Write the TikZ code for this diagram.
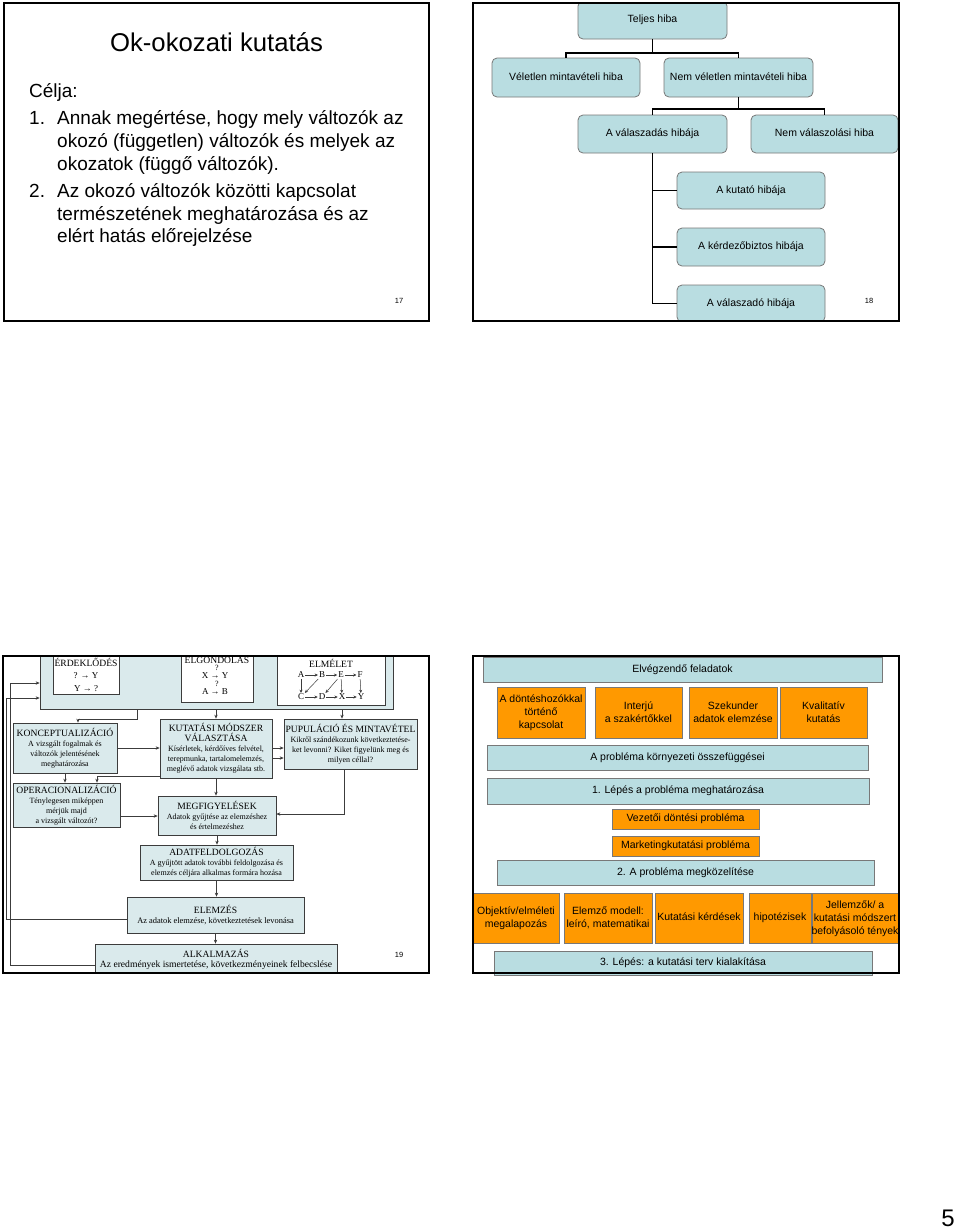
\documentclass[tikz,border=0pt]{standalone}
\usepackage{fontspec}
\setmainfont{Liberation Sans}
\newfontfamily\serifff{Liberation Serif}
\usetikzlibrary{arrows.meta}
\definecolor{hibablue}{RGB}{185,221,225}
\definecolor{paleblue}{RGB}{218,234,236}
\definecolor{orangebox}{RGB}{255,153,0}
\definecolor{boxgray}{RGB}{120,120,120}
\definecolor{darkline}{RGB}{60,60,60}
\newcommand{\hdf}{\fontsize{9.6}{10}\selectfont}
\begin{document}
\begin{tikzpicture}[x=1pt,y=-1pt,
  frame/.style={draw=black,line width=2pt},
  sl/.style={text height=7.6pt,text depth=2.4pt},
  hb/.style={draw=boxgray,fill=hibablue,rounded corners=5pt,line width=0.8pt,font=\fontsize{10.5}{12}\selectfont,inner sep=0pt,sl},
  conn/.style={draw=black,line width=1.3pt},
  pb/.style={draw=darkline,fill=paleblue,line width=0.7pt,inner sep=0pt,align=center,font=\serifff\fontsize{8}{10}\selectfont},
  wb/.style={draw=darkline,fill=white,line width=0.7pt,inner sep=0pt,align=center,font=\serifff\fontsize{9}{12.5}\selectfont},
  stxt/.style={inner sep=0pt,font=\serifff\fontsize{9}{10}\selectfont},
  lett/.style={inner sep=0.9pt,font=\serifff\fontsize{9}{10}\selectfont},
  arr/.style={draw=darkline,line width=0.6pt,-{Stealth[length=4pt,width=3.4pt]}},
  garr/.style={draw=darkline,line width=0.5pt,-{Stealth[length=3.2pt,width=3pt]}},
  bar/.style={draw=boxgray,fill=hibablue,line width=0.8pt,inner sep=0pt,font=\fontsize{10.5}{12}\selectfont,sl},
  ob/.style={draw=boxgray,fill=orangebox,line width=0.8pt,inner sep=0pt,align=center,font=\fontsize{10.5}{13}\selectfont},
  otxt/.style={inner sep=0pt,align=center,font=\fontsize{10.5}{13}\selectfont},
  pnum/.style={font=\fontsize{7.5}{9}\selectfont,inner sep=0pt},
  body1/.style={inner sep=0pt,anchor=base west,font=\fontsize{19}{23}\selectfont},
]
\useasboundingbox[fill=white] (0,0) rectangle (960,1229);

% ---------------- Slide 17 ----------------
\node[inner sep=0pt,anchor=base,font=\fontsize{25.7}{30}\selectfont] (title) at (216.5,51.5) {Ok-okozati kutatás};
\node[body1] (celja) at (29,97) {Célja:};
\node[body1] (n1) at (29,124) {1.};
\node[body1] (l1) at (57,124) {Annak megértése, hogy mely változók az};
\node[body1] (l2) at (57,147) {okozó (független) változók és melyek az};
\node[body1] (l3) at (57,170) {okozatok (függő változók).};
\node[body1] (n2) at (29,197.5) {2.};
\node[body1] (l4) at (57,197.5) {Az okozó változók közötti kapcsolat};
\node[body1] (l5) at (57,220) {természetének meghatározása és az};
\node[body1] (l6) at (57,242.5) {elért hatás előrejelzése};
\node[pnum] (p17) at (399,301) {17};
\draw[frame] (4,3) rectangle (429,321);

% ---------------- Slide 18 ----------------
\begin{scope}
\clip (473,3) rectangle (899,321);
\node[hb,minimum width=149pt,minimum height=38pt] (teljes) at (652.5,20) {Teljes hiba};
\node[hb,minimum width=148pt,minimum height=39pt] (vel) at (566,77.5) {Véletlen mintavételi hiba};
\node[hb,minimum width=149pt,minimum height=39pt] (nemvel) at (738.5,77.5) {Nem véletlen mintavételi hiba};
\node[hb,minimum width=149pt,minimum height=38pt] (valaszadas) at (652.5,134) {A válaszadás hibája};
\node[hb,minimum width=147pt,minimum height=38pt] (nemval) at (824.5,134) {Nem válaszolási hiba};
\node[hb,minimum width=148pt,minimum height=37pt] (kutato) at (751,190.5) {A kutató hibája};
\node[hb,minimum width=148pt,minimum height=38pt] (kerdezo) at (751,247) {A kérdezőbiztos hibája};
\node[hb,minimum width=148pt,minimum height=37pt] (valaszado) at (751,303.5) {A válaszadó hibája};
\coordinate (j1) at (0,53);
\coordinate (j2) at (0,109);
\draw[conn] (teljes.south) -- (teljes.south |- j1) -| (vel.north);
\draw[conn] (teljes.south |- j1) -| (nemvel.north);
\draw[conn] (nemvel.south) -- (nemvel.south |- j2) -| (valaszadas.north);
\draw[conn] (nemvel.south |- j2) -| (nemval.north);
\draw[conn] (valaszadas.south) |- (valaszado.west);
\draw[conn] (valaszadas.south |- kutato.west) -- (kutato.west);
\draw[conn] (valaszadas.south |- kerdezo.west) -- (kerdezo.west);
\end{scope}
\node[pnum] (p18) at (869,301) {18};
\draw[frame] (473,3) rectangle (899,321);

% ---------------- Slide 19 ----------------
\begin{scope}
\clip (3,656) rectangle (429,973);
\node[pb,minimum width=353pt,minimum height=55pt] (banner) at (216.5,681.5) {};
\node[wb,minimum width=66pt,minimum height=40pt] (erd) at (86,674.5) {{\hdf ÉRDEKLŐDÉS}\\? → Y\\Y → ?};
\node[wb,minimum width=72pt,minimum height=48pt] (elg) at (217,678) {};
\node[stxt,font=\serifff\hdf] (elgt1) at (217,659.5) {ELGONDOLÁS};
\node[stxt,font=\serifff\fontsize{8}{9}\selectfont] (elgq1) at (217,667.5) {?};
\node[stxt] (elgt2) at (215,676) {X → Y};
\node[stxt,font=\serifff\fontsize{8}{9}\selectfont] (elgq2) at (217,684) {?};
\node[stxt] (elgt3) at (215,692) {A → B};
\node[wb,minimum width=108pt,minimum height=51pt] (elm) at (331,679.5) {};
\node[stxt,font=\serifff\hdf] (elmt) at (331,663) {ELMÉLET};
\node[lett] (eA) at (301,675) {A};
\node[lett] (eB) at (322,675) {B};
\node[lett] (eE) at (341,675) {E};
\node[lett] (eF) at (360,675) {F};
\node[lett] (eC) at (301,697) {C};
\node[lett] (eD) at (322,697) {D};
\node[lett] (eX) at (342,697) {X};
\node[lett] (eY) at (361,697) {Y};
\draw[garr] (eA) -- (eB);
\draw[garr] (eB) -- (eE);
\draw[garr] (eE) -- (eF);
\draw[garr] (eC) -- (eD);
\draw[garr] (eD) -- (eX);
\draw[garr] (eX) -- (eY);
\draw[garr] (eA) -- (eC);
\draw[garr] (eB) -- (eC);
\draw[garr] (eE) -- (eD);
\draw[garr] (eE) -- (eX);
\draw[garr] (eF) -- (eY);

\node[pb,minimum width=104pt,minimum height=50pt] (konc) at (65,748) {{\hdf KONCEPTUALIZÁCIÓ}\\A vizsgált fogalmak és\\változók jelentésének\\meghatározása};
\node[pb,minimum width=107pt,minimum height=44pt] (oper) at (66.5,805) {{\hdf OPERACIONALIZÁCIÓ}\\Ténylegesen miképpen\\mérjük majd\\a vizsgált változót?};
\node[pb,minimum width=112pt,minimum height=59pt] (kut) at (216,748.5) {{\hdf KUTATÁSI MÓDSZER}\\{\hdf VÁLASZTÁSA}\\Kísérletek, kérdőíves felvétel,\\terepmunka, tartalomelemzés,\\meglévő adatok vizsgálata stb.};
\node[pb,minimum width=133pt,minimum height=50pt] (pup) at (350.5,744) {{\hdf PUPULÁCIÓ ÉS MINTAVÉTEL}\\Kikről szándékozunk következtetése-\\ket levonni? Kiket figyelünk meg és\\milyen céllal?};
\node[pb,minimum width=118pt,minimum height=39pt] (megf) at (217,815.5) {{\hdf MEGFIGYELÉSEK}\\Adatok gyűjtése az elemzéshez\\és értelmezéshez};
\node[pb,minimum width=153pt,minimum height=35pt] (adat) at (216.5,862.5) {{\hdf ADATFELDOLGOZÁS}\\A gyűjtött adatok további feldolgozása és\\elemzés céljára alkalmas formára hozása};
\node[pb,minimum width=177pt,minimum height=36pt,font=\serifff\fontsize{8.4}{10.5}\selectfont] (elem) at (215.5,915) {{\hdf ELEMZÉS}\\Az adatok elemzése, következtetések levonása};
\node[pb,minimum width=242pt,minimum height=31pt,font=\serifff\fontsize{9.6}{10.5}\selectfont] (alk) at (216,959.5) {{\hdf ALKALMAZÁS}\\Az eredmények ismertetése, következményeinek felbecslése};

\coordinate (xa) at (137,0);
\coordinate (xb) at (78,0);
\coordinate (xc) at (342,0);
\coordinate (yk) at (0,719);
\draw[arr] (banner.south -| xa) |- (xb |- yk) -- (konc.north -| xb);
\draw[arr] (banner.south -| kut.north) -- (kut.north);
\draw[arr] (banner.south -| xc) -- (pup.north -| xc);
\coordinate (yd) at (0,748);
\coordinate (yd2) at (0,758);
\draw[arr] (konc.east |- yd) -- (kut.west |- yd);
\draw[arr] (kut.east |- yd) -- (pup.west |- yd);
\draw[arr] (kut.east |- yd2) -- (pup.west |- yd2);
\draw[arr] (konc.south) -- (oper.north -| konc.south);
\coordinate (yf) at (0,776);
\coordinate (xg) at (97,0);
\draw[arr] (kut.west |- yf) -| (oper.north -| xg);
\coordinate (yh) at (0,816);
\draw[arr] (oper.east |- yh) -- (megf.west |- yh);
\draw[arr] (kut.south) -- (megf.north -| kut.south);
\coordinate (xc2) at (344,0);
\coordinate (yh2) at (0,814);
\draw[arr] (pup.south -| xc2) |- (megf.east |- yh2);
\draw[arr] (megf.south) -- (adat.north -| megf.south);
\draw[arr] (adat.south) -- (elem.north -| adat.south);
\draw[arr] (elem.south) -- (alk.north -| elem.south);
\coordinate (yfa) at (0,965);
\coordinate (xfa) at (10,0);
\coordinate (yfb) at (0,683);
\draw[arr] (alk.west |- yfa) -| (xfa |- yfb) -- (banner.west |- yfb);
\coordinate (yfc) at (0,919);
\coordinate (xfc) at (6,0);
\coordinate (yfd) at (0,698);
\draw[arr] (elem.west |- yfc) -| (xfc |- yfd) -- (banner.west |- yfd);
\end{scope}
\node[pnum] (p19) at (399,955) {19};
\draw[frame] (3,656) rectangle (429,973);

% ---------------- Slide 20 ----------------
\begin{scope}
\clip (473,656) rectangle (899,975);
\node[bar,minimum width=399pt,minimum height=25pt] (elv) at (682.5,669.5) {Elvégzendő feladatok};
\node[ob,minimum width=88pt,minimum height=51pt] (o1) at (541,712.5) {A döntéshozókkal\\történő\\kapcsolat};
\node[ob,minimum width=87pt,minimum height=51pt] (o2) at (638.5,712.5) {Interjú\\a szakértőkkel};
\node[ob,minimum width=88pt,minimum height=51pt] (o3) at (733,712.5) {Szekunder\\adatok elemzése};
\node[ob,minimum width=87pt,minimum height=51pt] (o4) at (823.5,712.5) {Kvalitatív\\kutatás};
\node[bar,minimum width=381pt,minimum height=25pt] (korny) at (677.5,757.5) {A probléma környezeti összefüggései};
\node[bar,minimum width=382pt,minimum height=26pt] (lep1) at (678,791) {1. Lépés a probléma meghatározása};
\node[ob,sl,minimum width=147pt,minimum height=20pt] (vez) at (685.5,819) {Vezetői döntési probléma};
\node[ob,sl,minimum width=147pt,minimum height=20pt] (mkt) at (685.5,846) {Marketingkutatási probléma};
\node[bar,minimum width=377pt,minimum height=25pt] (lep2) at (685.5,872.5) {2. A probléma megközelítése};
\node[ob,minimum width=86pt,minimum height=50pt] (p1) at (516,918) {Objektív/elméleti\\megalapozás};
\node[ob,minimum width=88pt,minimum height=50pt] (p2) at (608,918) {Elemző modell:\\leíró, matematikai};
\node[ob,sl,minimum width=88pt,minimum height=50pt] (p3) at (699,918) {Kutatási kérdések};
\node[ob,sl,minimum width=62pt,minimum height=50pt] (p4) at (780,918) {hipotézisek};
\node[ob,minimum width=90pt,minimum height=50pt] (p5) at (857,918) {};
\node[otxt] (p5t) at (855,918.5) {Jellemzők/ a\\kutatási módszert\\befolyásoló tények};
\node[pnum] (p20) at (868,954.5) {20};
\node[bar,minimum width=378pt,minimum height=24pt] (lep3) at (683,963) {3. Lépés: a kutatási terv kialakítása};
\end{scope}
\draw[frame] (473,656) rectangle (899,973);

\node[inner sep=0pt,font=\fontsize{24}{28}\selectfont] (page) at (948,1218) {5};
\end{tikzpicture}
\end{document}
